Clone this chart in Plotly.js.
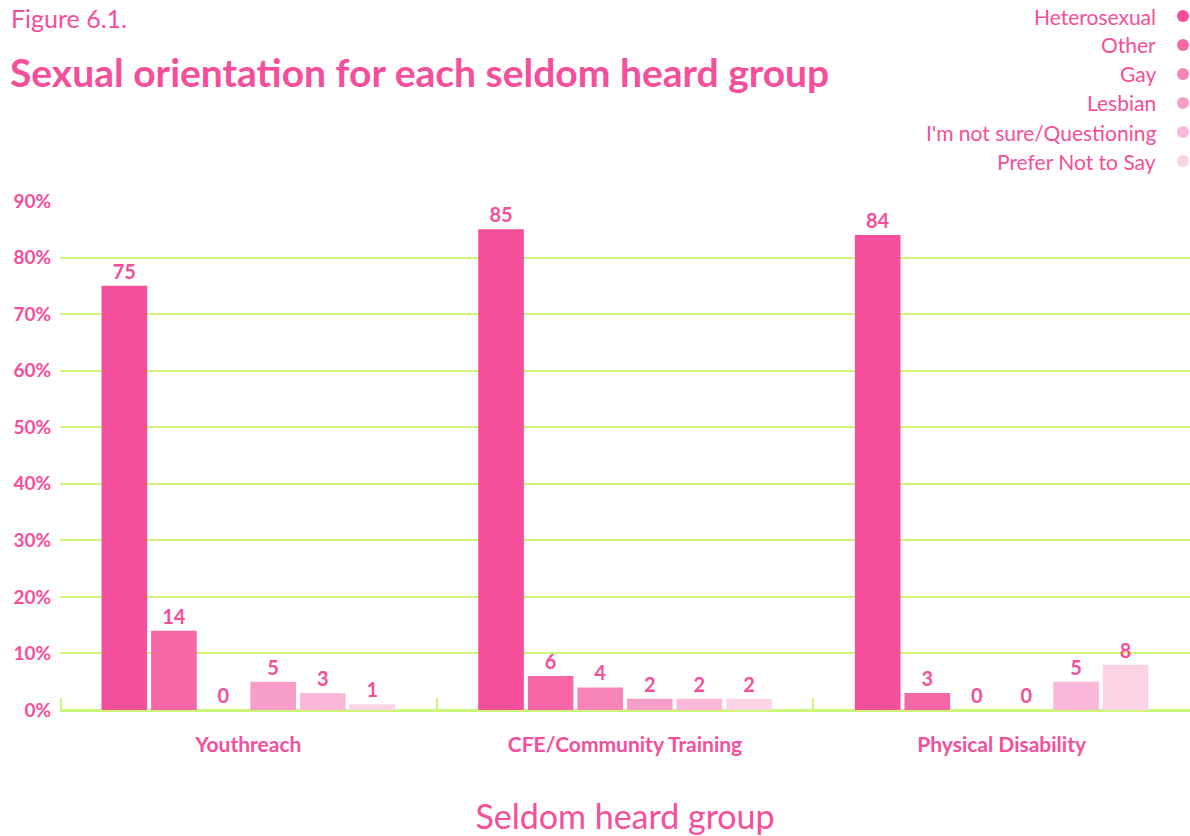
<!DOCTYPE html>
<html>
<head>
<meta charset="utf-8">
<script src="https://cdn.plot.ly/plotly-3.0.1.min.js"></script>
<style>
html,body{margin:0;padding:0;background:#fff;}
#chart{width:1190px;height:836px;}
</style>
</head>
<body>
<div id="chart"></div>
<script>
const groups = ["Youthreach", "CFE/Community Training", "Physical Disability"];
const seriesNames = ["Heterosexual", "Other", "Gay", "Lesbian", "I'm not sure/Questioning", "Prefer Not to Say"];
const heterosexual = [75, 85, 84];
const other = [14, 6, 3];
const gay = [0, 4, 0];
const lesbian = [5, 2, 0];
const notSure = [3, 2, 5];
const preferNot = [1, 2, 8];
const yTicks = [0, 10, 20, 30, 40, 50, 60, 70, 80, 90];
const yTickLabels = yTicks.map(v => v + "%");

const seriesValues = [heterosexual, other, gay, lesbian, notSure, preferNot];
const colors = ["#f54e9a", "#f766a7", "#f784b6", "#f79ec8", "#fab7d8", "#fbd3e6"];
const pink = "#f54e9a";
const green = "#cdf57a";
const fontFam = "Lato, 'Open Sans', sans-serif";

const W = 1190, H = 836;
const M = {l: 60, r: 0, t: 201, b: 126};
const pw = W - M.l - M.r, ph = H - M.t - M.b;
const px2x = px => (px - M.l) / pw;
const py2y = py => (H - M.b - py) / ph;

const traces = seriesValues.map((vals, i) => ({
  type: "bar",
  name: seriesNames[i],
  x: groups,
  y: vals,
  marker: {color: colors[i]},
  text: vals.map(String),
  textposition: "outside",
  textfont: {family: fontFam, size: 20, color: pink, weight: 700},
  cliponaxis: false,
  showlegend: false,
  hoverinfo: "x+y+name"
}));

const annotations = [];
const shapes = [];
annotations.push({
  xref: "paper", yref: "paper", x: px2x(9), y: py2y(18), xanchor: "left", yanchor: "middle",
  text: "Figure 6.1.", showarrow: false,
  font: {family: fontFam, size: 25, color: pink}
});
annotations.push({
  xref: "paper", yref: "paper", x: px2x(8), y: py2y(72), xanchor: "left", yanchor: "middle",
  text: "<b>Sexual orientation for each seldom heard group</b>", showarrow: false,
  font: {family: fontFam, size: 39, color: pink}
});
seriesNames.forEach((n, i) => {
  const ypx = 16 + i * 29;
  annotations.push({
    xref: "paper", yref: "paper", x: px2x(1158), y: py2y(ypx),
    xanchor: "right", yanchor: "middle", text: n, showarrow: false,
    font: {family: fontFam, size: 21, color: pink}
  });
  shapes.push({
    type: "circle", xref: "paper", yref: "paper",
    x0: px2x(1177), x1: px2x(1189), y0: py2y(ypx + 6), y1: py2y(ypx - 6),
    fillcolor: colors[i], line: {width: 0}
  });
});
// left boundary tick
shapes.push({
  type: "line", xref: "paper", yref: "paper",
  x0: 0.001, x1: 0.001, y0: 0, y1: py2y(698),
  line: {color: green, width: 2}
});

const layout = {
  width: W, height: H,
  margin: M,
  paper_bgcolor: "#fff", plot_bgcolor: "#fff",
  barmode: "group",
  bargap: 0.21,
  bargroupgap: 0.08,
  font: {family: fontFam, color: pink},
  xaxis: {
    type: "category",
    tickson: "boundaries",
    ticks: "inside",
    ticklen: 12,
    tickwidth: 2,
    tickcolor: green,
    showline: false,
    showgrid: false,
    ticklabelstandoff: 20,
    tickfont: {family: fontFam, size: 21, color: pink, weight: 700},
    title: {text: "Seldom heard group", font: {family: fontFam, size: 34, color: pink}, standoff: 52},
    fixedrange: true
  },
  yaxis: {
    range: [0, 90],
    tickvals: yTicks,
    ticktext: yTickLabels,
    showgrid: true,
    gridcolor: green,
    gridwidth: 2,
    zeroline: true,
    zerolinecolor: green,
    zerolinewidth: 3,
    ticks: "",
    ticklabelstandoff: 8,
    tickfont: {family: fontFam, size: 19, color: pink, weight: 700},
    fixedrange: true
  },
  annotations: annotations,
  shapes: shapes
};

Plotly.newPlot("chart", traces, layout, {displayModeBar: false, staticPlot: true});
</script>
</body>
</html>
